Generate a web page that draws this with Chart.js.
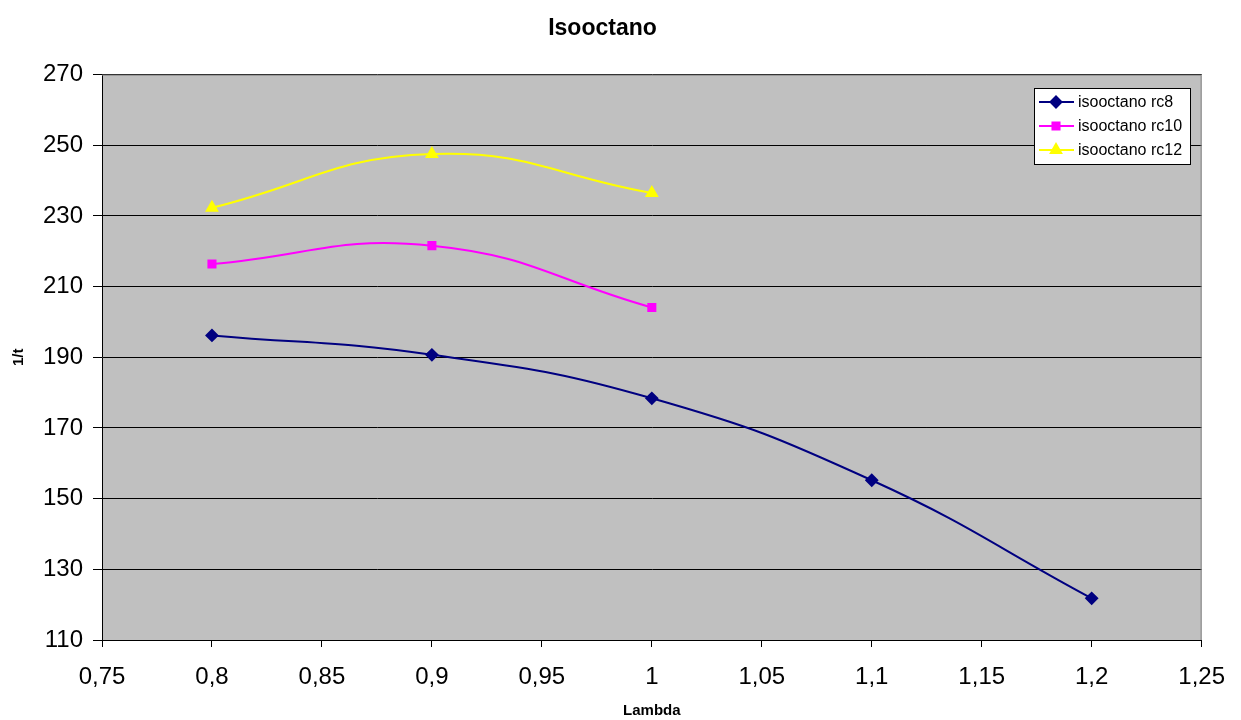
<!DOCTYPE html>
<html lang="es">
  <head>
    <meta charset="UTF-8" />
    <title>Isooctano</title>
    <script src="https://cdn.jsdelivr.net/npm/chart.js"></script>
    <style>
      html, body { margin: 0; padding: 0; background: #ffffff; }
      .chart-wrap { width: 1241px; height: 720px; position: relative; }
    </style>
  </head>
  <body>
    <div class="chart-wrap">
      <canvas id="isoChart"></canvas>
    </div>
  </body>
</html>

<script>
  // datos
  const lambdaRc8 = [0.8, 0.9, 1.0, 1.1, 1.2];
  const valoresRc8 = [196.2, 190.7, 178.4, 155.2, 121.8];
  const lambdaRc10 = [0.8, 0.9, 1.0];
  const valoresRc10 = [216.4, 221.6, 204.1];
  const lambdaRc12 = [0.8, 0.9, 1.0];
  const valoresRc12 = [232.3, 247.5, 236.5];
  const etiquetas = ["isooctano rc8", "isooctano rc10", "isooctano rc12"];

  const fuente = "'Liberation Sans', Arial, sans-serif";

  function puntos(xs, ys) {
    return xs.map((x, i) => ({ x: x, y: ys[i] }));
  }
  function coma(v) {
    return String(Math.round(v * 100) / 100).replace(".", ",");
  }

  // fondo gris y borde del area de trazado
  const fondoPlot = {
    id: "fondoPlot",
    beforeDraw(chart) {
      const a = chart.chartArea, ctx = chart.ctx;
      ctx.save();
      ctx.fillStyle = "#C0C0C0";
      ctx.fillRect(a.left, a.top, a.right - a.left, a.bottom - a.top);
      ctx.restore();
    },
    afterDatasetsDraw(chart) {
      const a = chart.chartArea, ctx = chart.ctx;
      ctx.save();
      ctx.strokeStyle = "#808080";
      ctx.lineWidth = 1;
      ctx.beginPath();
      ctx.moveTo(a.left, a.top + 0.5);
      ctx.lineTo(a.right - 0.5, a.top + 0.5);
      ctx.lineTo(a.right - 0.5, a.bottom);
      ctx.stroke();
      ctx.restore();
    },
  };

  // leyenda con caja dentro del area
  const leyendaCaja = {
    id: "leyendaCaja",
    afterDraw(chart) {
      const ctx = chart.ctx;
      const x0 = 1034, y0 = 88, w = 156, h = 76;
      ctx.save();
      ctx.fillStyle = "#ffffff";
      ctx.fillRect(x0, y0, w, h);
      ctx.strokeStyle = "#000000";
      ctx.lineWidth = 1;
      ctx.strokeRect(x0 + 0.5, y0 + 0.5, w, h);
      ctx.font = "16px " + fuente;
      ctx.textBaseline = "middle";
      chart.data.datasets.forEach((ds, i) => {
        const cy = y0 + 14 + i * 24;
        ctx.strokeStyle = ds.borderColor;
        ctx.lineWidth = 2;
        ctx.beginPath();
        ctx.moveTo(x0 + 5, cy);
        ctx.lineTo(x0 + 40, cy);
        ctx.stroke();
        ctx.fillStyle = ds.pointBackgroundColor;
        ctx.strokeStyle = ds.borderColor;
        Chart.helpers.drawPoint(ctx, {
          pointStyle: ds.pointStyle,
          radius: ds.pointRadius,
          rotation: 0,
          borderWidth: 1,
        }, x0 + 22, cy);
        ctx.fillStyle = "#000000";
        ctx.fillText(ds.label, x0 + 44, cy + 1);
      });
      ctx.restore();
    },
  };

  const serieBase = {
    showLine: true,
    tension: 0.45,
    borderWidth: 2,
    pointRadius: 5,
    pointHoverRadius: 5,
  };

  const ctxIso = document.getElementById("isoChart").getContext("2d");
  new Chart(ctxIso, {
    type: "scatter",
    data: {
      datasets: [
        Object.assign({}, serieBase, {
          label: etiquetas[0],
          data: puntos(lambdaRc8, valoresRc8),
          borderColor: "#000080",
          backgroundColor: "#000080",
          pointBackgroundColor: "#000080",
          pointStyle: "rectRot",
          pointRadius: 5.5,
        }),
        Object.assign({}, serieBase, {
          label: etiquetas[1],
          data: puntos(lambdaRc10, valoresRc10),
          borderColor: "#FF00FF",
          backgroundColor: "#FF00FF",
          pointBackgroundColor: "#FF00FF",
          pointStyle: "rect",
          pointRadius: 5,
        }),
        Object.assign({}, serieBase, {
          label: etiquetas[2],
          data: puntos(lambdaRc12, valoresRc12),
          borderColor: "#FFFF00",
          backgroundColor: "#FFFF00",
          pointBackgroundColor: "#FFFF00",
          pointStyle: "triangle",
          pointRadius: 6,
        }),
      ],
    },
    options: {
      responsive: true,
      maintainAspectRatio: false,
      animation: false,
      layout: { padding: { left: 0, right: 36, top: 0, bottom: 0 } },
      plugins: {
        legend: { display: false },
        tooltip: { enabled: false },
        title: {
          display: true,
          text: "Isooctano",
          color: "#000000",
          font: { family: fuente, size: 23, weight: "bold" },
          padding: { top: 15, bottom: 32 },
        },
      },
      scales: {
        x: {
          type: "linear",
          min: 0.75,
          max: 1.25,
          afterFit(scale) { scale.height = 80; },
          ticks: {
            stepSize: 0.05,
            color: "#000000",
            padding: 16,
            maxRotation: 0,
            font: { family: fuente, size: 24 },
            callback: (v) => coma(v),
          },
          grid: { drawOnChartArea: false, drawTicks: true, tickLength: 7, color: "#000000" },
          border: { color: "#000000" },
          title: {
            display: true,
            text: "Lambda",
            color: "#000000",
            font: { family: fuente, size: 15, weight: "bold" },
            padding: { top: 0, bottom: 0 },
          },
        },
        y: {
          min: 110,
          max: 270,
          afterFit(scale) { scale.width = 102; },
          ticks: {
            stepSize: 20,
            color: "#000000",
            padding: 10,
            font: { family: fuente, size: 24 },
          },
          grid: { color: "#000000", tickLength: 9, lineWidth: 1 },
          border: { color: "#000000" },
          title: {
            display: true,
            text: "1/t",
            color: "#000000",
            font: { family: fuente, size: 15, weight: "bold" },
            padding: { top: 10, bottom: 0 },
          },
        },
      },
    },
    plugins: [fondoPlot, leyendaCaja],
  });
</script>
